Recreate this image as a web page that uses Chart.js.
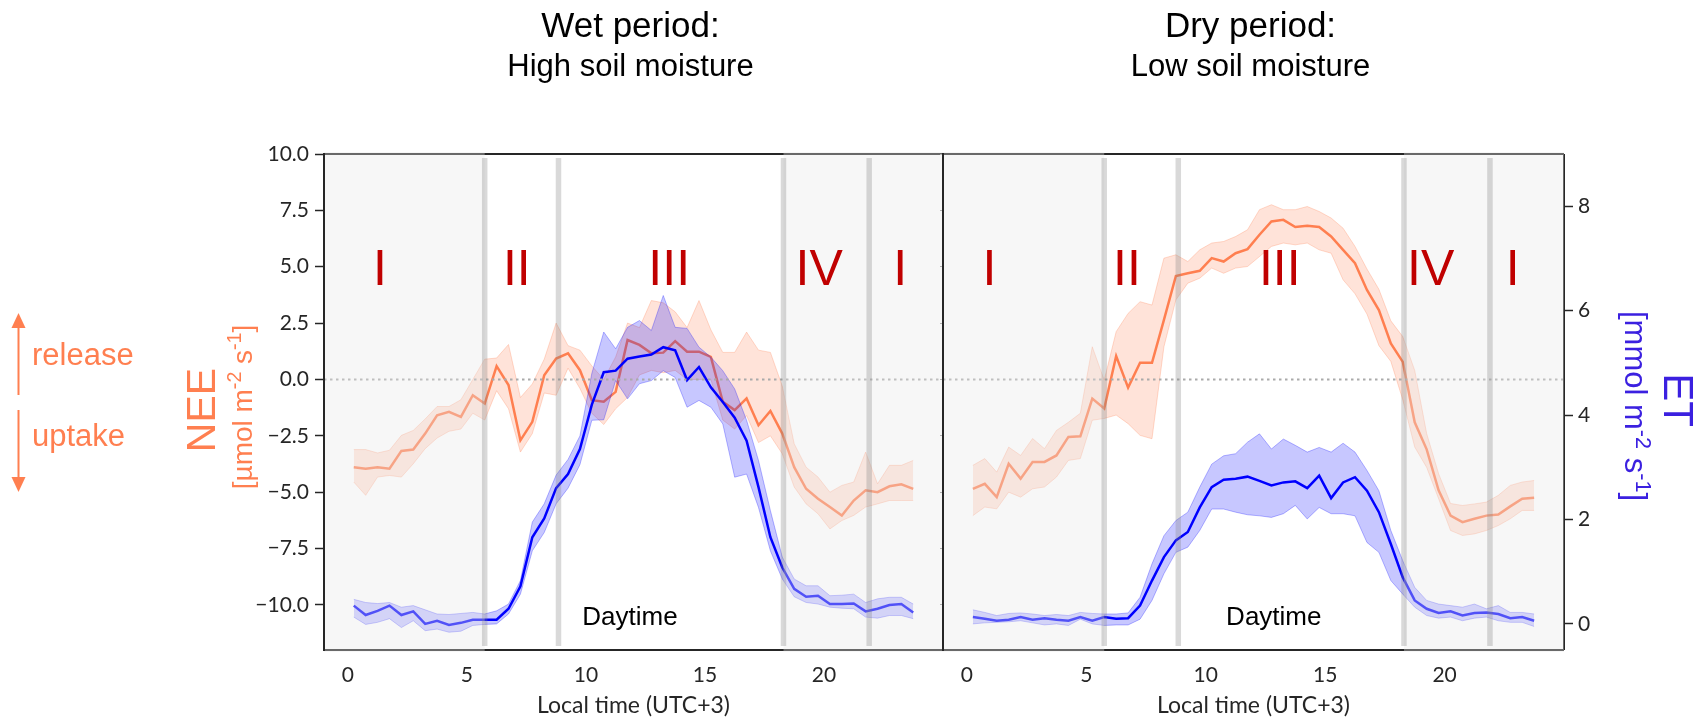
<!DOCTYPE html>
<html lang="en">
<head>
<meta charset="UTF-8">
<title>NEE and ET diurnal cycle – wet vs dry period</title>
<script src="https://cdn.jsdelivr.net/npm/chart.js"></script>
<style>
  body { margin: 0; background: #fff; width: 1698px; height: 721px; overflow: hidden; position: relative; }
  canvas { position: absolute; top: 0; }
  #wetChart { left: 0; }
  #dryChart { left: 930px; }
</style>
</head>
<body>
<canvas id="wetChart" width="944" height="721"></canvas>
<canvas id="dryChart" width="768" height="721"></canvas>

<script>
// half-hourly bins, local time (UTC+3)
const HOURS = [0.25, 0.75, 1.25, 1.75, 2.25, 2.75, 3.25, 3.75, 4.25, 4.75, 5.25, 5.75,
  6.25, 6.75, 7.25, 7.75, 8.25, 8.75, 9.25, 9.75, 10.25, 10.75, 11.25, 11.75,
  12.25, 12.75, 13.25, 13.75, 14.25, 14.75, 15.25, 15.75, 16.25, 16.75, 17.25, 17.75,
  18.25, 18.75, 19.25, 19.75, 20.25, 20.75, 21.25, 21.75, 22.25, 22.75, 23.25, 23.75];

const HOUR_TICKS = [0, 5, 10, 15, 20];
const NEE_TICKS = [-10, -7.5, -5, -2.5, 0, 2.5, 5, 7.5, 10];
const ET_TICKS = [0, 2, 4, 6, 8];

// wet period (high soil moisture)
const NEE_WET = [-3.89, -3.96, -3.89, -3.96, -3.17, -3.11, -2.40, -1.59, -1.44, -1.66, -0.70, -1.07,
  0.59, -0.25, -2.70, -1.88, 0.19, 0.93, 1.16, 0.41, -0.92, -0.99, -0.55, 1.75,
  1.53, 1.16, 1.19, 1.70, 1.23, 1.23, 1.00, -0.99, -1.36, -0.84, -2.03, -1.40,
  -2.40, -3.89, -4.85, -5.29, -5.66, -6.04, -5.37, -4.92, -5.00, -4.74, -4.65, -4.85];
const NEE_WET_LO = [-4.55, -5.14, -4.33, -4.26, -4.33, -3.74, -3.07, -2.60, -2.30, -2.20, -1.50, -1.80,
  -0.50, -1.30, -3.22, -2.40, -0.60, -0.70, 0.50, -0.40, -1.50, -2.00, -1.30, -0.80,
  0.20, 0.40, 0.30, 0.40, 0.00, 0.00, 0.00, -1.80, -2.20, -1.60, -2.80, -2.50,
  -3.30, -4.77, -5.52, -5.96, -6.63, -6.26, -6.03, -5.66, -5.52, -5.37, -5.37, -5.37];
const NEE_WET_HI = [-3.11, -3.11, -3.26, -3.14, -2.48, -2.26, -1.75, -1.20, -1.20, -0.90, 0.00, 0.90,
  0.95, 1.55, -0.80, -0.20, 0.90, 2.50, 1.50, 1.30, 0.60, 0.00, 1.00, 2.50,
  2.30, 3.50, 3.40, 3.00, 2.30, 3.50, 2.20, 1.20, 1.20, 2.10, 1.30, 1.20,
  -0.30, -2.85, -3.89, -4.33, -5.00, -4.70, -4.55, -3.22, -4.63, -3.81, -3.81, -3.59];

const ET_WET = [0.35, 0.17, 0.25, 0.35, 0.17, 0.24, 0.00, 0.06, -0.02, 0.02, 0.08, 0.08,
  0.08, 0.29, 0.72, 1.66, 2.02, 2.60, 2.87, 3.35, 4.20, 4.82, 4.85, 5.08,
  5.12, 5.16, 5.30, 5.24, 4.67, 4.92, 4.53, 4.25, 3.95, 3.51, 2.62, 1.66,
  1.08, 0.67, 0.52, 0.54, 0.38, 0.38, 0.39, 0.24, 0.29, 0.36, 0.38, 0.22];
const ET_WET_LO = [0.13, -0.01, 0.03, 0.10, -0.07, 0.06, -0.13, -0.10, -0.16, -0.14, -0.03, -0.01,
  0.00, 0.19, 0.57, 1.40, 1.75, 2.30, 2.60, 3.05, 3.90, 3.91, 4.66, 4.31,
  4.60, 4.66, 4.85, 4.72, 4.15, 4.28, 4.15, 3.83, 2.81, 2.87, 2.23, 1.40,
  0.86, 0.52, 0.41, 0.38, 0.32, 0.30, 0.29, 0.13, 0.11, 0.16, 0.16, 0.10];
const ET_WET_HI = [0.47, 0.41, 0.39, 0.41, 0.32, 0.35, 0.27, 0.19, 0.18, 0.20, 0.22, 0.19,
  0.25, 0.38, 0.83, 1.95, 2.30, 2.85, 3.15, 3.60, 4.80, 5.59, 5.27, 5.68,
  5.81, 5.62, 6.29, 5.68, 5.66, 5.30, 5.11, 4.85, 4.50, 3.90, 3.13, 2.17,
  1.28, 0.86, 0.73, 0.73, 0.54, 0.55, 0.57, 0.41, 0.48, 0.51, 0.51, 0.38];

// dry period (low soil moisture)
const NEE_DRY = [-4.85, -4.63, -5.22, -3.74, -4.40, -3.66, -3.66, -3.37, -2.55, -2.52, -0.85, -1.29,
  1.04, -0.36, 0.74, 0.74, 2.64, 4.59, 4.71, 4.82, 5.38, 5.23, 5.60, 5.78,
  6.42, 7.01, 7.08, 6.76, 6.82, 6.76, 6.34, 5.75, 5.16, 3.97, 3.08, 1.60,
  0.78, -1.90, -3.10, -4.92, -6.04, -6.33, -6.18, -6.04, -5.99, -5.63, -5.29, -5.25];
const NEE_DRY_LO = [-6.04, -5.66, -5.74, -5.00, -5.22, -4.85, -4.77, -4.33, -3.59, -3.51, -1.81, -1.73,
  -1.58, -1.96, -2.48, -2.63, 1.45, 3.53, 4.27, 4.49, 4.94, 4.71, 4.94, 5.01,
  5.45, 5.90, 6.05, 5.97, 6.05, 5.75, 5.60, 4.42, 3.80, 2.90, 1.50, 0.80,
  -0.90, -3.00, -3.90, -5.29, -6.70, -6.92, -6.85, -6.70, -6.48, -6.18, -5.81, -5.81];
const NEE_DRY_HI = [-3.81, -3.51, -4.11, -3.00, -3.37, -2.62, -3.07, -2.26, -1.90, -1.50, 1.45, -0.03,
  2.12, 2.93, 3.45, 3.30, 5.38, 5.53, 5.23, 5.75, 6.05, 6.12, 6.34, 6.64,
  7.53, 7.75, 7.53, 7.53, 7.67, 7.45, 7.16, 6.71, 5.90, 4.90, 4.00, 2.60,
  1.90, 0.40, -2.40, -4.18, -5.50, -5.59, -5.52, -5.44, -5.14, -4.70, -4.55, -4.48];

const ET_DRY = [0.13, 0.10, 0.06, 0.08, 0.13, 0.08, 0.11, 0.08, 0.06, 0.13, 0.06, 0.13,
  0.10, 0.11, 0.35, 0.83, 1.28, 1.60, 1.76, 2.23, 2.62, 2.76, 2.78, 2.82,
  2.74, 2.65, 2.71, 2.73, 2.60, 2.84, 2.41, 2.71, 2.81, 2.55, 2.14, 1.53,
  0.89, 0.45, 0.29, 0.21, 0.24, 0.16, 0.21, 0.22, 0.19, 0.11, 0.13, 0.06];
const ET_DRY_LO = [0.00, 0.02, 0.03, 0.04, 0.06, 0.02, -0.02, 0.00, -0.03, 0.09, 0.00, -0.03,
  -0.02, -0.02, 0.09, 0.45, 0.96, 1.37, 1.47, 1.79, 2.20, 2.20, 2.14, 2.09,
  2.07, 2.04, 2.11, 2.27, 2.01, 2.23, 2.11, 2.11, 2.07, 1.56, 1.37, 0.83,
  0.57, 0.32, 0.16, 0.11, 0.13, 0.06, 0.11, 0.13, 0.06, 0.03, 0.03, -0.05];
const ET_DRY_HI = [0.27, 0.22, 0.16, 0.20, 0.21, 0.19, 0.16, 0.18, 0.16, 0.22, 0.20, 0.19,
  0.19, 0.21, 0.51, 1.15, 1.69, 1.98, 2.14, 2.62, 3.06, 3.22, 3.26, 3.48,
  3.64, 3.35, 3.54, 3.42, 3.29, 3.38, 3.29, 3.46, 3.29, 2.94, 2.55, 1.79,
  1.21, 0.70, 0.45, 0.38, 0.35, 0.32, 0.38, 0.29, 0.35, 0.22, 0.22, 0.19];

// phase boundaries (h) and night-time spans
const PHASE_BOUNDS = [5.75, 8.85, 18.3, 21.9];
const NIGHT_SPANS = [[-1, 5.75], [18.3, 25]];

const CORAL = '255,127,80';
const BLUE = '0,0,255';
const SANS = '"Liberation Sans", Arial, sans-serif';
const TICK_FONT = { family: 'Lato', size: 21 };

function pts(vals) {
  return vals.map((v, i) => ({ x: HOURS[i], y: v }));
}

function series(mean, lo, hi, rgb, axis, order) {
  const edge = `rgba(${rgb},0.28)`;
  return [
    { data: pts(lo), yAxisID: axis, borderColor: edge, borderWidth: 1, pointRadius: 0, fill: false, order: order + 1 },
    { data: pts(hi), yAxisID: axis, borderColor: edge, borderWidth: 1, pointRadius: 0, fill: '-1',
      backgroundColor: `rgba(${rgb},0.22)`, order: order + 1 },
    { data: pts(mean), yAxisID: axis, borderColor: `rgb(${rgb})`, borderWidth: 2.5, pointRadius: 0, fill: false, order }
  ];
}

function line(ctx, x0, y0, x1, y1) {
  ctx.beginPath(); ctx.moveTo(x0, y0); ctx.lineTo(x1, y1); ctx.stroke();
}

// draws text with raised exponents, centred on (0,0) of the current transform
function unitText(ctx, parts, size, color) {
  ctx.fillStyle = color;
  ctx.textAlign = 'left';
  ctx.textBaseline = 'alphabetic';
  const fonts = parts.map(([, sup]) => `${sup ? size * 0.7 : size}px ${SANS}`);
  let total = 0;
  const widths = parts.map(([t], i) => { ctx.font = fonts[i]; const w = ctx.measureText(t).width; total += w; return w; });
  let x = -total / 2;
  parts.forEach(([t, sup], i) => {
    ctx.font = fonts[i];
    ctx.fillText(t, x, sup ? -size * 0.38 : 0);
    x += widths[i];
  });
}

const panelDecor = {
  id: 'panelDecor',
  afterDatasetsDraw(chart, args, o) {
    const { ctx, chartArea: a, scales: { x, y } } = chart;
    ctx.save();

    // zero line
    ctx.strokeStyle = '#aaaaaa';
    ctx.lineWidth = 2;
    ctx.setLineDash([2.5, 3.5]);
    const y0 = y.getPixelForValue(0);
    line(ctx, a.left, y0, a.right, y0);
    ctx.setLineDash([]);

    // frame parts that sit under the night shading
    ctx.strokeStyle = '#262626';
    ctx.lineWidth = 2;
    line(ctx, a.left, a.top, a.right, a.top);
    line(ctx, a.left, a.bottom, a.right, a.bottom);
    if (o.rightSpineShaded) line(ctx, a.right, a.top, a.right, a.bottom);

    // night shading
    ctx.fillStyle = 'rgba(232,232,232,0.35)';
    NIGHT_SPANS.forEach(([s, e]) => {
      const px0 = x.getPixelForValue(s), px1 = x.getPixelForValue(e);
      ctx.fillRect(px0, a.top - 2, px1 - px0, a.bottom - a.top + 4);
    });

    // phase boundaries
    ctx.strokeStyle = 'rgba(128,128,128,0.3)';
    ctx.lineWidth = 5.5;
    PHASE_BOUNDS.forEach(h => {
      const px = x.getPixelForValue(h);
      line(ctx, px, a.top + 4, px, a.bottom - 4);
    });

    ctx.strokeStyle = '#262626';
    ctx.lineWidth = 2;
    line(ctx, a.left, a.top - 1, a.left, a.bottom + 1);
    if (!o.rightSpineShaded) line(ctx, a.right, a.top - 1, a.right, a.bottom + 1);

    // phase numerals
    ctx.fillStyle = '#c00000';
    ctx.font = `50px ${SANS}`;
    ctx.textAlign = 'center';
    ctx.textBaseline = 'alphabetic';
    const ny = y.getPixelForValue(5) + 0.358 * 50;
    o.phases.forEach(([h, txt]) => ctx.fillText(txt, x.getPixelForValue(h), ny));

    ctx.fillStyle = '#000';
    ctx.font = `26px ${SANS}`;
    ctx.fillText('Daytime', x.getPixelForValue(o.daytimeAt), y.getPixelForValue(-10.9));

    // panel titles
    const cx = (a.left + a.right) / 2 - 3;
    ctx.font = `35px ${SANS}`;
    ctx.fillText(o.title, cx, 37);
    ctx.font = `31px ${SANS}`;
    ctx.fillText(o.subtitle, cx, 76);

    ctx.restore();
  }
};

// NEE axis label and release/uptake arrows on the left
const neeLabel = {
  id: 'neeLabel',
  afterDraw(chart) {
    const ctx = chart.ctx;
    const c = `rgb(${CORAL})`;
    ctx.save();
    ctx.strokeStyle = c;
    ctx.fillStyle = c;
    ctx.lineWidth = 2;
    line(ctx, 18.5, 326, 18.5, 395);
    line(ctx, 18.5, 410, 18.5, 479);
    ctx.beginPath(); ctx.moveTo(18.5, 313); ctx.lineTo(11.5, 328); ctx.lineTo(25.5, 328); ctx.closePath(); ctx.fill();
    ctx.beginPath(); ctx.moveTo(18.5, 492); ctx.lineTo(11.5, 477); ctx.lineTo(25.5, 477); ctx.closePath(); ctx.fill();

    ctx.font = `31px ${SANS}`;
    ctx.textAlign = 'left';
    ctx.textBaseline = 'alphabetic';
    ctx.fillText('release', 32, 365);
    ctx.fillText('uptake', 32, 446);

    ctx.save();
    ctx.translate(215, 410);
    ctx.rotate(-Math.PI / 2);
    ctx.font = `41px ${SANS}`;
    ctx.textAlign = 'center';
    ctx.fillText('NEE', 0, 0);
    ctx.restore();

    ctx.save();
    ctx.translate(252, 407);
    ctx.rotate(-Math.PI / 2);
    unitText(ctx, [['[µmol m', false], ['-2', true], [' s', false], ['-1', true], [']', false]], 28, c);
    ctx.restore();
    ctx.restore();
  }
};

// ET axis label on the right
const etLabel = {
  id: 'etLabel',
  afterDraw(chart) {
    const ctx = chart.ctx;
    const c = '#3b20e0';
    ctx.save();
    ctx.translate(734, 400);
    ctx.rotate(Math.PI / 2);
    ctx.fillStyle = c;
    ctx.font = `42px ${SANS}`;
    ctx.textAlign = 'center';
    ctx.textBaseline = 'alphabetic';
    ctx.fillText('ET', 0, 0);
    ctx.restore();

    ctx.save();
    ctx.translate(694.5, 406);
    ctx.rotate(Math.PI / 2);
    unitText(ctx, [['[mmol m', false], ['-2', true], [' s', false], ['-1', true], [']', false]], 31, c);
    ctx.restore();
  }
};

function xAxis() {
  return {
    type: 'linear', min: -1, max: 25,
    afterBuildTicks: s => { s.ticks = HOUR_TICKS.map(v => ({ value: v })); },
    afterFit: s => { s.height = 71; },
    grid: { display: false, drawTicks: false },
    border: { display: false },
    ticks: { padding: 13, color: '#262626', font: TICK_FONT, maxRotation: 0, autoSkip: false },
    title: { display: true, text: 'Local time (UTC+3)', color: '#262626',
      font: { family: 'Lato', size: 23 }, padding: { top: 0, bottom: 2 } }
  };
}

function neeAxis(width, showLabels) {
  return {
    type: 'linear', position: 'left', min: -12, max: 10,
    afterBuildTicks: s => { s.ticks = NEE_TICKS.map(v => ({ value: v })); },
    afterFit: s => { s.width = width; },
    border: { display: false },
    grid: showLabels
      ? { drawOnChartArea: false, drawTicks: true, tickLength: 9, tickColor: '#262626', tickWidth: 1.5 }
      : { drawOnChartArea: false, drawTicks: true, tickLength: 3, tickColor: '#b0b0b0', tickWidth: 1 },
    ticks: {
      display: showLabels, padding: 6, color: '#262626', font: TICK_FONT,
      callback: v => (v < 0 ? '\u2212' : '') + Math.abs(v).toFixed(1)
    }
  };
}

function etAxis(showLabels) {
  const axis = { type: 'linear', position: 'right', min: -0.5, max: 9 };
  if (!showLabels) return Object.assign(axis, { display: false });
  return Object.assign(axis, {
    afterBuildTicks: s => { s.ticks = ET_TICKS.map(v => ({ value: v })); },
    afterFit: s => { s.width = 134; },
    border: { display: false },
    grid: { drawOnChartArea: false, drawTicks: true, tickLength: 9, tickColor: '#262626', tickWidth: 1.5 },
    ticks: { padding: 5, color: '#262626', font: TICK_FONT }
  });
}

function panel(canvasId, nee, et, opts) {
  return new Chart(document.getElementById(canvasId), {
    type: 'line',
    data: { datasets: [...series(...nee, CORAL, 'y', 2), ...series(...et, BLUE, 'y1', 0)] },
    options: {
      responsive: false,
      animation: false,
      devicePixelRatio: 1,
      layout: { padding: { top: 154, right: opts.padRight, left: 0, bottom: 0 } },
      elements: { line: { tension: 0 } },
      scales: { x: xAxis(), y: neeAxis(opts.neeWidth, opts.neeLabels), y1: etAxis(opts.etLabels) },
      plugins: {
        legend: { display: false },
        tooltip: { enabled: false },
        panelDecor: opts.decor
      }
    },
    plugins: [panelDecor, ...opts.extra]
  });
}

panel('wetChart', [NEE_WET, NEE_WET_LO, NEE_WET_HI], [ET_WET, ET_WET_LO, ET_WET_HI], {
  padRight: 1, neeWidth: 324, neeLabels: true, etLabels: false, extra: [neeLabel],
  decor: {
    title: 'Wet period:', subtitle: 'High soil moisture', daytimeAt: 11.85, rightSpineShaded: false,
    phases: [[1.35, 'I'], [7.1, 'II'], [13.5, 'III'], [19.8, 'IV'], [23.2, 'I']]
  }
});

panel('dryChart', [NEE_DRY, NEE_DRY_LO, NEE_DRY_HI], [ET_DRY, ET_DRY_LO, ET_DRY_HI], {
  padRight: 0, neeWidth: 13, neeLabels: false, etLabels: true, extra: [etLabel],
  decor: {
    title: 'Dry period:', subtitle: 'Low soil moisture', daytimeAt: 12.85, rightSpineShaded: true,
    phases: [[0.94, 'I'], [6.7, 'II'], [13.1, 'III'], [19.42, 'IV'], [22.85, 'I']]
  }
});
</script>
</body>
</html>
